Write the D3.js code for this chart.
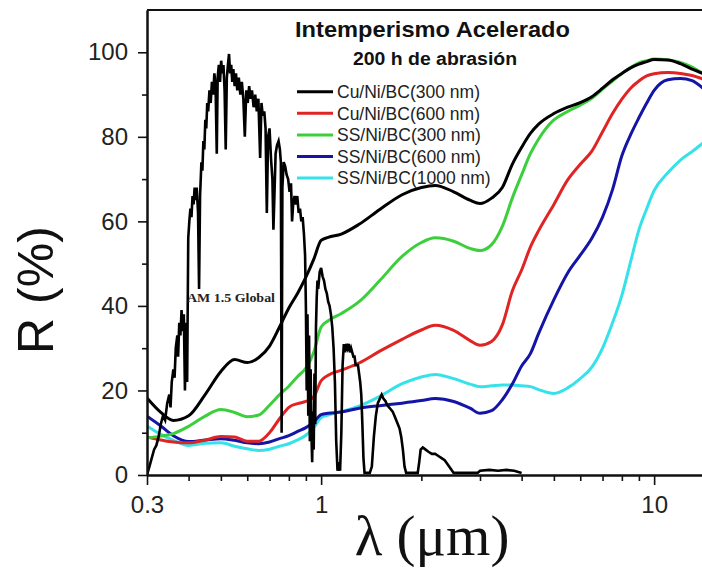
<!DOCTYPE html>
<html>
<head>
<meta charset="utf-8">
<script src="https://cdn.jsdelivr.net/npm/d3@7/dist/d3.min.js"></script>
<style>
  html, body { margin: 0; padding: 0; background: #fff; }
  svg { display: block; }
  .tick text { font-family: "Liberation Sans", Arial, sans-serif; font-size: 24px; fill: #222; }
</style>
</head>
<body>
<svg id="chart" width="702" height="569"></svg>
<script>
// Wavelength grid (µm) shared by the reflectance curves
const wavelengths = [0.30,0.33,0.36,0.40,0.45,0.50,0.55,0.60,0.65,0.70,0.75,0.80,0.85,0.90,0.95,1.00,1.05,1.15,1.30,1.50,1.75,2.00,2.20,2.50,2.80,3.00,3.25,3.50,3.75,4.00,4.25,4.50,5.00,5.50,6.00,6.50,7.00,7.50,8.00,8.50,9.00,9.50,10,11,12,13,14];

// Reflectance R (%) of each coating after accelerated weathering
const cuNi300 = [18.2,14.8,12.9,14.0,19.2,24.5,27.3,26.6,27.8,30.5,35.0,39.5,43.0,46.8,51.0,55.5,56.2,57.0,59.3,62.8,66.3,68.0,68.5,67.0,65.0,64.2,65.5,68.0,73.5,77.5,80.8,83.0,85.5,87.0,88.1,89.5,91.5,93.5,95.0,96.3,97.2,97.8,98.3,98.2,97.3,96.0,95.0];
const cuNi600 = [9.0,8.3,7.8,7.6,8.3,9.1,9.0,8.0,8.0,10.0,13.3,16.0,16.9,17.4,18.5,22.3,23.6,24.8,26.5,29.3,32.1,34.3,35.4,34.2,31.8,30.7,31.6,35.5,43.5,48.5,53.9,57.8,64.0,69.8,73.5,76.6,81.2,85.5,88.9,91.5,93.2,94.4,94.9,95.2,95.0,94.5,93.7];
const ssNi300 = [8.8,9.2,9.8,11.5,14.0,15.5,14.8,13.8,14.2,16.5,19.0,21.0,23.3,25.3,29.0,35.0,36.5,38.2,41.0,46.0,51.7,55.0,56.1,55.3,53.6,53.1,54.5,58.8,65.5,71.0,76.0,79.5,84.0,86.0,87.5,89.1,91.3,93.2,95.0,96.4,97.5,98.0,98.4,98.2,97.6,96.5,95.0];
const ssNi600 = [13.9,11.6,9.3,7.9,8.3,8.6,8.2,7.6,7.4,7.8,8.6,9.3,10.3,11.2,12.5,14.3,14.6,14.9,15.8,16.4,17.0,17.6,18.1,17.4,15.8,14.6,15.2,17.8,21.5,25.8,28.7,33.5,41.5,47.8,52.0,56.0,61.0,67.5,75.5,80.5,84.5,88.0,91.0,93.5,93.8,93.3,91.5];
const ssNi1000 = [11.6,9.6,8.2,7.0,7.5,7.6,6.8,6.2,5.8,6.1,6.8,7.4,8.3,9.4,11.2,13.6,14.2,15.0,16.3,18.6,21.6,23.2,23.8,22.8,21.5,20.9,21.1,21.3,21.3,21.1,20.9,20.2,19.3,20.6,22.8,25.5,30.0,36.0,42.5,50.5,58.0,63.0,67.3,71.5,74.5,76.5,78.5];

const seriesNames = ["Cu/Ni/BC(300 nm)","Cu/Ni/BC(600 nm)","SS/Ni/BC(300 nm)","SS/Ni/BC(600 nm)","SS/Ni/BC(1000 nm)"];
const seriesColors = ["#000000","#e02424","#3ccf3c","#1414a6","#36e2ea"];

// Normalised AM 1.5 Global solar spectrum
const amWavelength = [0.300,0.305,0.310,0.315,0.320,0.325,0.330,0.335,0.340,0.345,0.350,0.353,0.356,0.360,0.363,0.366,0.370,0.372,0.375,0.378,0.381,0.384,0.387,0.390,0.393,0.396,0.399,0.402,0.405,0.408,0.411,0.414,0.417,0.420,0.423,0.427,0.430,0.433,0.437,0.440,0.443,0.446,0.449,0.452,0.455,0.458,0.462,0.466,0.470,0.474,0.478,0.482,0.486,0.489,0.493,0.497,0.501,0.505,0.509,0.513,0.517,0.521,0.525,0.529,0.533,0.537,0.541,0.545,0.550,0.555,0.560,0.566,0.572,0.578,0.584,0.590,0.596,0.602,0.608,0.614,0.620,0.627,0.634,0.641,0.648,0.656,0.662,0.668,0.675,0.681,0.687,0.693,0.700,0.707,0.714,0.719,0.724,0.730,0.737,0.745,0.752,0.757,0.761,0.765,0.772,0.780,0.788,0.796,0.804,0.812,0.818,0.824,0.832,0.840,0.848,0.856,0.864,0.872,0.880,0.888,0.895,0.900,0.905,0.910,0.915,0.920,0.925,0.930,0.935,0.940,0.945,0.950,0.955,0.960,0.965,0.970,0.975,0.980,0.990,1.000,1.010,1.020,1.030,1.040,1.050,1.060,1.070,1.080,1.090,1.100,1.110,1.120,1.130,1.140,1.150,1.160,1.170,1.180,1.190,1.200,1.210,1.220,1.230,1.240,1.250,1.260,1.270,1.290,1.300,1.310,1.320,1.330,1.340,1.350,1.400,1.420,1.440,1.460,1.480,1.500,1.520,1.540,1.560,1.580,1.600,1.620,1.640,1.660,1.680,1.700,1.720,1.740,1.760,1.780,1.800,1.950,1.970,1.990,2.020,2.060,2.100,2.150,2.200,2.250,2.300,2.350,2.400,2.450,2.500,2.950,3.000,3.200,3.400,3.600,3.800,4.000];
const amIrradiance = [0,2,4,6,7,9,12,14,13,17,19,16,22,25,23,30,33,28,36,33,39,34,38,20,36,22,56,60,63,61,66,64,68,65,68,62,44,66,74,72,79,77,84,82,88,86,91,88,93,90,95,92,76,94,97,93,98,95,97,91,77,94,97,99.6,95,97,93,96,92,95,91,94,90,93,89,80,91,88,92,89,91,87,90,86,89,75,88,85,86,82,62,80,82,75,70,58,66,76,78,79,77,74,10,68,74,73,71,70,67,69,60,64,66,64,66,62,63,60,61,57,52,40,20,38,14,33,8,25,10,3,15,6,24,12,35,42,46,44,48,49,47,46,44,43,41,40,38,35,30,22,8,1,3,1,10,26,31,29,31,30,31,29,30,29,28,28,26,26,24,22,19,12,4,0.5,0.5,2,9,14,17,18,19,18,17.5,16.5,16,15.5,15,14,13,12,11,9,6,2,0.5,0.5,3,6,6.5,6,5.5,5,5,4.5,4,3.5,2.5,1.5,0.5,0.5,1,1.2,1,1.2,1,0.5];

const yMajor = [0,20,40,60,80,100];
const yMinor = [10,30,50,70,90];
const xMajor = [0.3,1,10];
const xMinor = [0.4,0.5,0.6,0.7,0.8,0.9,2,3,4,5,6,7,8,9];

const svg = d3.select("#chart");
const plotLeft = 147, plotRight = 702.8, plotTop = 10, plotBottom = 475;

const x = d3.scaleLog().domain([0.3, 14]).range([plotLeft, plotRight]);
const y = d3.scaleLinear().domain([0, 110]).range([plotBottom, plotTop]);

svg.append("defs").append("clipPath").attr("id", "plot")
  .append("rect").attr("x", plotLeft).attr("y", plotTop)
  .attr("width", plotRight - plotLeft).attr("height", plotBottom - plotTop);

// Reflectance curves
const line = d3.line().x(d => x(d[0])).y(d => y(d[1])).curve(d3.curveMonotoneX);
const allSeries = [cuNi300, cuNi600, ssNi300, ssNi600, ssNi1000];
const curves = svg.append("g").attr("clip-path", "url(#plot)");
[4, 3, 1, 2, 0].forEach(i => {
  curves.append("path")
    .datum(wavelengths.map((w, k) => [w, allSeries[i][k]]))
    .attr("d", line)
    .attr("fill", "none")
    .attr("stroke", seriesColors[i])
    .attr("stroke-width", 3)
    .attr("stroke-linejoin", "round");
});

// Solar spectrum
const specLine = d3.line().x(d => x(d[0])).y(d => y(d[1]));
curves.append("path")
  .datum(amWavelength.map((w, k) => [w, amIrradiance[k]]))
  .attr("d", specLine)
  .attr("fill", "none")
  .attr("stroke", "#000")
  .attr("stroke-width", 2.6)
  .attr("stroke-linejoin", "miter");

svg.append("text")
  .attr("x", 187).attr("y", 302)
  .attr("font-family", "'Liberation Serif', 'Times New Roman', serif")
  .attr("font-weight", "bold")
  .attr("font-size", 13)
  .attr("textLength", 88)
  .attr("lengthAdjust", "spacingAndGlyphs")
  .attr("fill", "#222")
  .text("AM 1.5 Global");

// Axes
const fmt = d => d3.format("~g")(d);
svg.append("g").attr("transform", `translate(${plotLeft},0)`)
  .call(d3.axisLeft(y).tickValues(yMajor).tickSize(9).tickSizeOuter(0).tickPadding(10).tickFormat(d3.format("d")));
svg.append("g").attr("transform", `translate(${plotLeft},0)`)
  .call(d3.axisLeft(y).tickValues(yMinor).tickSize(5).tickSizeOuter(0).tickFormat(""));
svg.append("g").attr("transform", `translate(0,${plotBottom})`)
  .call(d3.axisBottom(x).tickValues(xMajor).tickSize(10).tickSizeOuter(0).tickPadding(11).tickFormat(fmt));
svg.append("g").attr("transform", `translate(0,${plotBottom})`)
  .call(d3.axisBottom(x).tickValues(xMinor).tickSize(6).tickSizeOuter(0).tickFormat(""));

svg.selectAll(".domain").attr("stroke", "#111").attr("stroke-width", 2);
svg.selectAll(".tick line").attr("stroke", "#111").attr("stroke-width", 1.6);

// Top frame line
svg.append("line").attr("x1", plotLeft).attr("x2", 702).attr("y1", plotTop).attr("y2", plotTop)
  .attr("stroke", "#111").attr("stroke-width", 2);

// Axis titles
svg.append("text")
  .attr("transform", "translate(53,290) rotate(-90)")
  .attr("text-anchor", "middle")
  .attr("font-family", "'Liberation Sans', Arial, sans-serif")
  .attr("font-size", 50)
  .attr("fill", "#111")
  .text("R (%)");

svg.append("text")
  .attr("x", 432).attr("y", 555)
  .attr("text-anchor", "middle")
  .attr("font-family", "'Liberation Serif', 'Times New Roman', serif")
  .attr("font-size", 57)
  .attr("fill", "#111")
  .text("λ (μm)");

// Title block
svg.append("text")
  .attr("x", 295).attr("y", 37)
  .attr("font-family", "'Liberation Sans', Arial, sans-serif")
  .attr("font-weight", "bold").attr("font-size", 22)
  .attr("textLength", 275).attr("lengthAdjust", "spacingAndGlyphs")
  .attr("fill", "#111")
  .text("Intemperismo Acelerado");
svg.append("text")
  .attr("x", 353).attr("y", 65)
  .attr("font-family", "'Liberation Sans', Arial, sans-serif")
  .attr("font-weight", "bold").attr("font-size", 17.5)
  .attr("textLength", 164).attr("lengthAdjust", "spacingAndGlyphs")
  .attr("fill", "#111")
  .text("200 h de abrasión");

// Legend
const legend = svg.append("g");
seriesNames.forEach((name, i) => {
  const cy = 91.7 + i * 21.6;
  legend.append("line")
    .attr("x1", 297).attr("x2", 333).attr("y1", cy).attr("y2", cy)
    .attr("stroke", seriesColors[i]).attr("stroke-width", 3);
  legend.append("text")
    .attr("x", 337).attr("y", cy + 6.3)
    .attr("font-family", "'Liberation Sans', Arial, sans-serif")
    .attr("font-size", 17.5)
    .attr("fill", "#222")
    .text(name);
});
</script>
</body>
</html>
